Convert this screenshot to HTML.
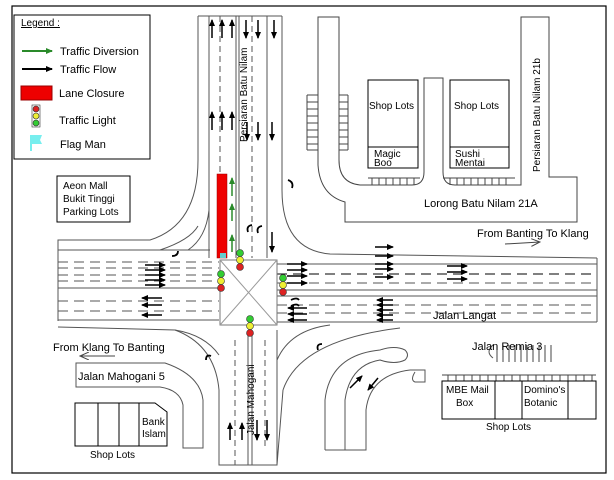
<!DOCTYPE html>
<html><head><meta charset="utf-8"><style>
html,body{margin:0;padding:0;background:#fff;}
svg{display:block;font-family:"Liberation Sans",sans-serif;}
</style></head><body>
<svg width="614" height="480" viewBox="0 0 614 480" xmlns="http://www.w3.org/2000/svg">
<defs>
<marker id="ab" markerWidth="7" markerHeight="6" refX="6" refY="3" orient="auto" markerUnits="userSpaceOnUse"><path d="M0,0 L7,3 L0,6z" fill="#000"/></marker>
<marker id="ag" markerWidth="7" markerHeight="6" refX="6" refY="3" orient="auto" markerUnits="userSpaceOnUse"><path d="M0,0 L7,3 L0,6z" fill="#2a8a2a"/></marker>
<marker id="ao" markerWidth="10" markerHeight="8" refX="9" refY="4" orient="auto" markerUnits="userSpaceOnUse"><path d="M0,0 L9,4 L0,8" fill="none" stroke="#444"/></marker>
</defs>
<rect x="12" y="6" width="594" height="467" fill="#fff" stroke="#000" stroke-width="1.2"/>
<g fill="none" stroke="#555" stroke-width="1">
<!-- north road -->
<path d="M198,16 V160 Q198,225 150,240 L58,240 V321"/>
<line x1="198" y1="16" x2="282" y2="16"/>
<line x1="209" y1="16" x2="209" y2="258"/>
<line x1="220" y1="16" x2="220" y2="174" stroke-dasharray="6,4"/>
<line x1="236" y1="16" x2="236" y2="258"/><line x1="239" y1="16" x2="239" y2="258"/>
<line x1="252" y1="16" x2="252" y2="258" stroke-dasharray="6,4"/>
<line x1="267" y1="16" x2="267" y2="258"/>
<path d="M282,16 V190 Q282,250 330,254 L597,258"/>
<path d="M188,250 Q206,238 209,210"/>
<path d="M160,250 Q190,240 198,226"/>
<!-- Lorong -->
<path d="M318,17 V165 Q320,195 345,202 V222 H577 V177 H549 V17 H521 V185 H455 Q443,185 443,172 V78 H424 V172 Q424,185 412,185 H360 Q339,183 339,160 V17 Z" stroke="#444"/>
<!-- horizontal road -->
<line x1="58" y1="250" x2="210" y2="250"/>
<line x1="277" y1="264" x2="597" y2="264"/>
<line x1="58" y1="288" x2="219" y2="288"/>
<line x1="277" y1="290" x2="597" y2="290"/><line x1="277" y1="296" x2="597" y2="296"/>
<line x1="58" y1="320" x2="219" y2="320"/>
<line x1="277" y1="322" x2="597" y2="322"/>
<line x1="597" y1="258" x2="597" y2="322"/>
<g stroke-dasharray="10,6">
<line x1="58" y1="262" x2="219" y2="262"/><line x1="58" y1="268" x2="219" y2="268"/>
<line x1="58" y1="275" x2="219" y2="275"/><line x1="58" y1="281" x2="219" y2="281"/>
<line x1="58" y1="301" x2="219" y2="301"/><line x1="58" y1="311" x2="219" y2="311"/>
<line x1="277" y1="274" x2="597" y2="274" stroke="#000"/><line x1="277" y1="283" x2="597" y2="283"/>
<line x1="277" y1="305" x2="597" y2="305"/><line x1="277" y1="313" x2="597" y2="313"/>
</g>
<rect x="220" y="260" width="57" height="65" stroke="#777"/>
<line x1="220" y1="260" x2="277" y2="325" stroke="#999"/><line x1="277" y1="260" x2="220" y2="325" stroke="#999"/>
<!-- south-west -->
<path d="M58,327 L175,330 Q215,345 219,390 V465 H277 V330"/>
<path d="M76,363 H165 Q200,375 203,400 V448 H183 V405 Q180,390 160,387 H76 Z"/>
<path d="M175,330 Q205,335 219,355"/>
<line x1="248" y1="335" x2="248" y2="465"/><line x1="252" y1="335" x2="252" y2="465"/>
<line x1="235" y1="340" x2="235" y2="465" stroke-dasharray="6,4"/>
<line x1="265" y1="340" x2="265" y2="450" stroke-dasharray="6,4"/>
<!-- south-east -->
<path d="M277,360 Q290,330 330,325 M283,390 Q300,340 400,328 M277,465 L283,390"/>
<path d="M325,450 V400 Q330,355 380,350 Q395,345 405,350 Q410,355 405,360 Q395,365 380,360 Q350,365 345,400 V450 M325,450 H366 V410 Q370,375 410,370"/>
<path d="M410,370 H425 V382 H415 Q410,380 415,372"/>
<path d="M493,345 Q485,352 493,358"/>
</g>
<!-- parking ticks -->
<g stroke="#444" stroke-width="1">
<path d="M307,95 V150 M307,95 H318 M307,102 H318 M307,109 H318 M307,116 H318 M307,123 H318 M307,130 H318 M307,137 H318 M307,144 H318 M307,150 H318"/>
<path d="M348,95 V150 M339,95 H348 M339,102 H348 M339,109 H348 M339,116 H348 M339,123 H348 M339,130 H348 M339,137 H348 M339,144 H348 M339,150 H348"/>
<path d="M368,178 H420 M443,178 H515 M372,178 V185 M379,178 V185 M386,178 V185 M393,178 V185 M400,178 V185 M407,178 V185 M414,178 V185 M450,178 V185 M457,178 V185 M464,178 V185 M471,178 V185 M478,178 V185 M485,178 V185 M492,178 V185 M499,178 V185 M506,178 V185"/>
<path d="M442,375 H596 M448,375 V381 M456,375 V381 M464,375 V381 M472,375 V381 M480,375 V381 M488,375 V381 M496,375 V381 M504,375 V381 M512,375 V381 M520,375 V381 M528,375 V381 M536,375 V381 M544,375 V381 M552,375 V381 M560,375 V381 M568,375 V381 M576,375 V381 M584,375 V381 M592,375 V381"/>
<path d="M497,345 V362 M503,345 V362 M509,345 V362 M515,345 V362 M521,345 V362 M527,345 V362 M533,345 V362 M539,345 V362 M545,345 V362 M551,345 V362"/>
</g>
<g fill="none" stroke="#000" stroke-width="1">
<rect x="368" y="80" width="50" height="88"/><line x1="368" y1="147" x2="418" y2="147"/>
<rect x="450" y="80" width="59" height="88"/><line x1="450" y1="147" x2="509" y2="147"/>
<rect x="57" y="176" width="73" height="46"/>
<rect x="14" y="15" width="136" height="144"/>
<path d="M75,403 H155 L167,412 V446 H75 Z M98,403 V446 M119,403 V446 M139,403 V446"/>
<rect x="442" y="381" width="154" height="38"/><path d="M495,381 V419 M522,381 V419 M568,381 V419"/>
</g>
<rect x="217" y="174" width="10" height="84" fill="#e00" stroke="#900" stroke-width="0.5"/>
<rect x="220" y="253" width="6" height="5" fill="#6cc"/>
<g stroke="#333" stroke-width="0.6">
<g transform="translate(240,253)"><circle cx="0" cy="0" r="3.5" fill="#3c3"/><circle cx="0" cy="7" r="3.5" fill="#ee3"/><circle cx="0" cy="14" r="3.5" fill="#d22"/></g>
<g transform="translate(221,274)"><circle cx="0" cy="0" r="3.5" fill="#3c3"/><circle cx="0" cy="7" r="3.5" fill="#ee3"/><circle cx="0" cy="14" r="3.5" fill="#d22"/></g>
<g transform="translate(283,278)"><circle cx="0" cy="0" r="3.5" fill="#3c3"/><circle cx="0" cy="7" r="3.5" fill="#ee3"/><circle cx="0" cy="14" r="3.5" fill="#d22"/></g>
<g transform="translate(250,319)"><circle cx="0" cy="0" r="3.5" fill="#3c3"/><circle cx="0" cy="7" r="3.5" fill="#ee3"/><circle cx="0" cy="14" r="3.5" fill="#d22"/></g>
<g transform="translate(36,112)"><rect x="-4" y="-7" width="8" height="22" fill="none"/><circle cx="0" cy="-3" r="3" fill="#d22"/><circle cx="0" cy="4" r="3" fill="#ee3"/><circle cx="0" cy="11" r="3" fill="#3c3"/></g>
</g>
<line x1="22" y1="51" x2="52" y2="51" stroke="#2a8a2a" stroke-width="2" marker-end="url(#ag)"/>
<line x1="22" y1="69" x2="52" y2="69" stroke="#000" stroke-width="2" marker-end="url(#ab)"/>
<rect x="21" y="86" width="31" height="14" fill="#e00" stroke="#900"/>
<path d="M30,135 H42 L40,140 L42,144 H32 V151 H30Z" fill="#7ee"/>
<g stroke="#000" stroke-width="1.5" marker-end="url(#ab)">
<line x1="212" y1="38" x2="212" y2="20"/><line x1="222" y1="38" x2="222" y2="20"/><line x1="232" y1="38" x2="232" y2="20"/>
<line x1="246" y1="20" x2="246" y2="38"/><line x1="258" y1="20" x2="258" y2="38"/><line x1="274" y1="20" x2="274" y2="38"/>
<line x1="212" y1="130" x2="212" y2="112"/><line x1="222" y1="130" x2="222" y2="112"/><line x1="232" y1="130" x2="232" y2="112"/>
<line x1="247" y1="122" x2="247" y2="140"/><line x1="258" y1="122" x2="258" y2="140"/><line x1="272" y1="122" x2="272" y2="140"/>
<line x1="272" y1="232" x2="272" y2="252"/>
<line x1="230" y1="440" x2="230" y2="423"/><line x1="242" y1="440" x2="242" y2="423"/>
<line x1="257" y1="420" x2="257" y2="440"/><line x1="267" y1="420" x2="267" y2="440"/>
<line x1="145" y1="265" x2="165" y2="265"/><line x1="145" y1="270" x2="165" y2="270"/><line x1="145" y1="275" x2="165" y2="275"/><line x1="145" y1="280" x2="165" y2="280"/><line x1="145" y1="285" x2="165" y2="285"/>
<line x1="162" y1="298" x2="142" y2="298"/><line x1="162" y1="305" x2="142" y2="305"/><line x1="162" y1="315" x2="142" y2="315"/>
<line x1="287" y1="264" x2="307" y2="264"/><line x1="287" y1="270" x2="307" y2="270"/><line x1="287" y1="276" x2="307" y2="276"/><line x1="287" y1="283" x2="307" y2="283"/>
<line x1="307" y1="308" x2="288" y2="308"/><line x1="307" y1="314" x2="288" y2="314"/><line x1="307" y1="320" x2="288" y2="320"/>
<line x1="375" y1="247" x2="393" y2="247"/><line x1="375" y1="256" x2="393" y2="256"/><line x1="375" y1="264" x2="393" y2="264"/><line x1="375" y1="269" x2="393" y2="269"/><line x1="375" y1="277" x2="393" y2="277"/>
<line x1="447" y1="266" x2="467" y2="266"/><line x1="447" y1="272" x2="467" y2="272"/><line x1="447" y1="279" x2="467" y2="279"/>
<line x1="393" y1="300" x2="377" y2="300"/><line x1="393" y1="305" x2="377" y2="305"/><line x1="393" y1="310" x2="377" y2="310"/><line x1="393" y1="315" x2="377" y2="315"/><line x1="393" y1="320" x2="377" y2="320"/>
<line x1="350" y1="388" x2="362" y2="376"/><line x1="378" y1="378" x2="368" y2="390"/>
</g>
<g stroke="#2a8a2a" stroke-width="1.5" marker-end="url(#ag)">
<line x1="232" y1="196" x2="232" y2="178"/><line x1="232" y1="221" x2="232" y2="204"/><line x1="232" y1="252" x2="232" y2="235"/>
</g>
<g fill="none" stroke="#000" stroke-width="1.8"><path d="M288,180 q6,2 4,8 M248,232 q-2,-6 4,-7 M258,233 q-2,-6 4,-7 M172,256 q6,0 6,-5 M206,360 q0,-6 5,-4 M318,350 q-2,-6 4,-6 M291,300 q6,-3 8,0 M291,306 q6,-3 8,0"/></g>
<line x1="505" y1="244" x2="540" y2="242" stroke="#444" marker-end="url(#ao)"/>
<line x1="115" y1="356" x2="80" y2="356" stroke="#444" marker-end="url(#ao)"/>
<g font-size="11" fill="#000">
<text x="21" y="26" font-size="10" text-decoration="underline">Legend :</text>
<text x="60" y="55">Traffic Diversion</text>
<text x="60" y="73">Traffic Flow</text>
<text x="59" y="97">Lane Closure</text>
<text x="59" y="124">Traffic Light</text>
<text x="60" y="148">Flag Man</text>
<text x="63" y="189" font-size="10">Aeon Mall</text>
<text x="63" y="202" font-size="10">Bukit Tinggi</text>
<text x="63" y="215" font-size="10">Parking Lots</text>
<text x="369" y="109" font-size="10">Shop Lots</text>
<text x="454" y="109" font-size="10">Shop Lots</text>
<text x="374" y="157" font-size="10">Magic</text><text x="374" y="166" font-size="10">Boo</text>
<text x="455" y="157" font-size="10">Sushi</text><text x="455" y="166" font-size="10">Mentai</text>
<text x="424" y="207">Lorong Batu Nilam 21A</text>
<text x="477" y="237">From Banting To Klang</text>
<text x="433" y="319">Jalan Langat</text>
<text x="472" y="350">Jalan Remia 3</text>
<text x="53" y="351">From Klang To Banting</text>
<text x="78" y="380">Jalan Mahogani 5</text>
<text x="142" y="425" font-size="10">Bank</text><text x="142" y="437" font-size="10">Islam</text>
<text x="90" y="458" font-size="10">Shop Lots</text>
<text x="446" y="393" font-size="10">MBE Mail</text><text x="456" y="406" font-size="10">Box</text>
<text x="524" y="393" font-size="10">Domino's</text><text x="524" y="406" font-size="10">Botanic</text>
<text x="486" y="430" font-size="10">Shop Lots</text>
<text transform="translate(247,142) rotate(-90)" font-size="10">Persiaran Batu Nilam</text>
<text transform="translate(540,172) rotate(-90)" font-size="10">Persiaran Batu Nilam 21b</text>
<text transform="translate(254,435) rotate(-90)" font-size="10">Jalan Mahogani</text>
</g>
</svg>
</body></html>
